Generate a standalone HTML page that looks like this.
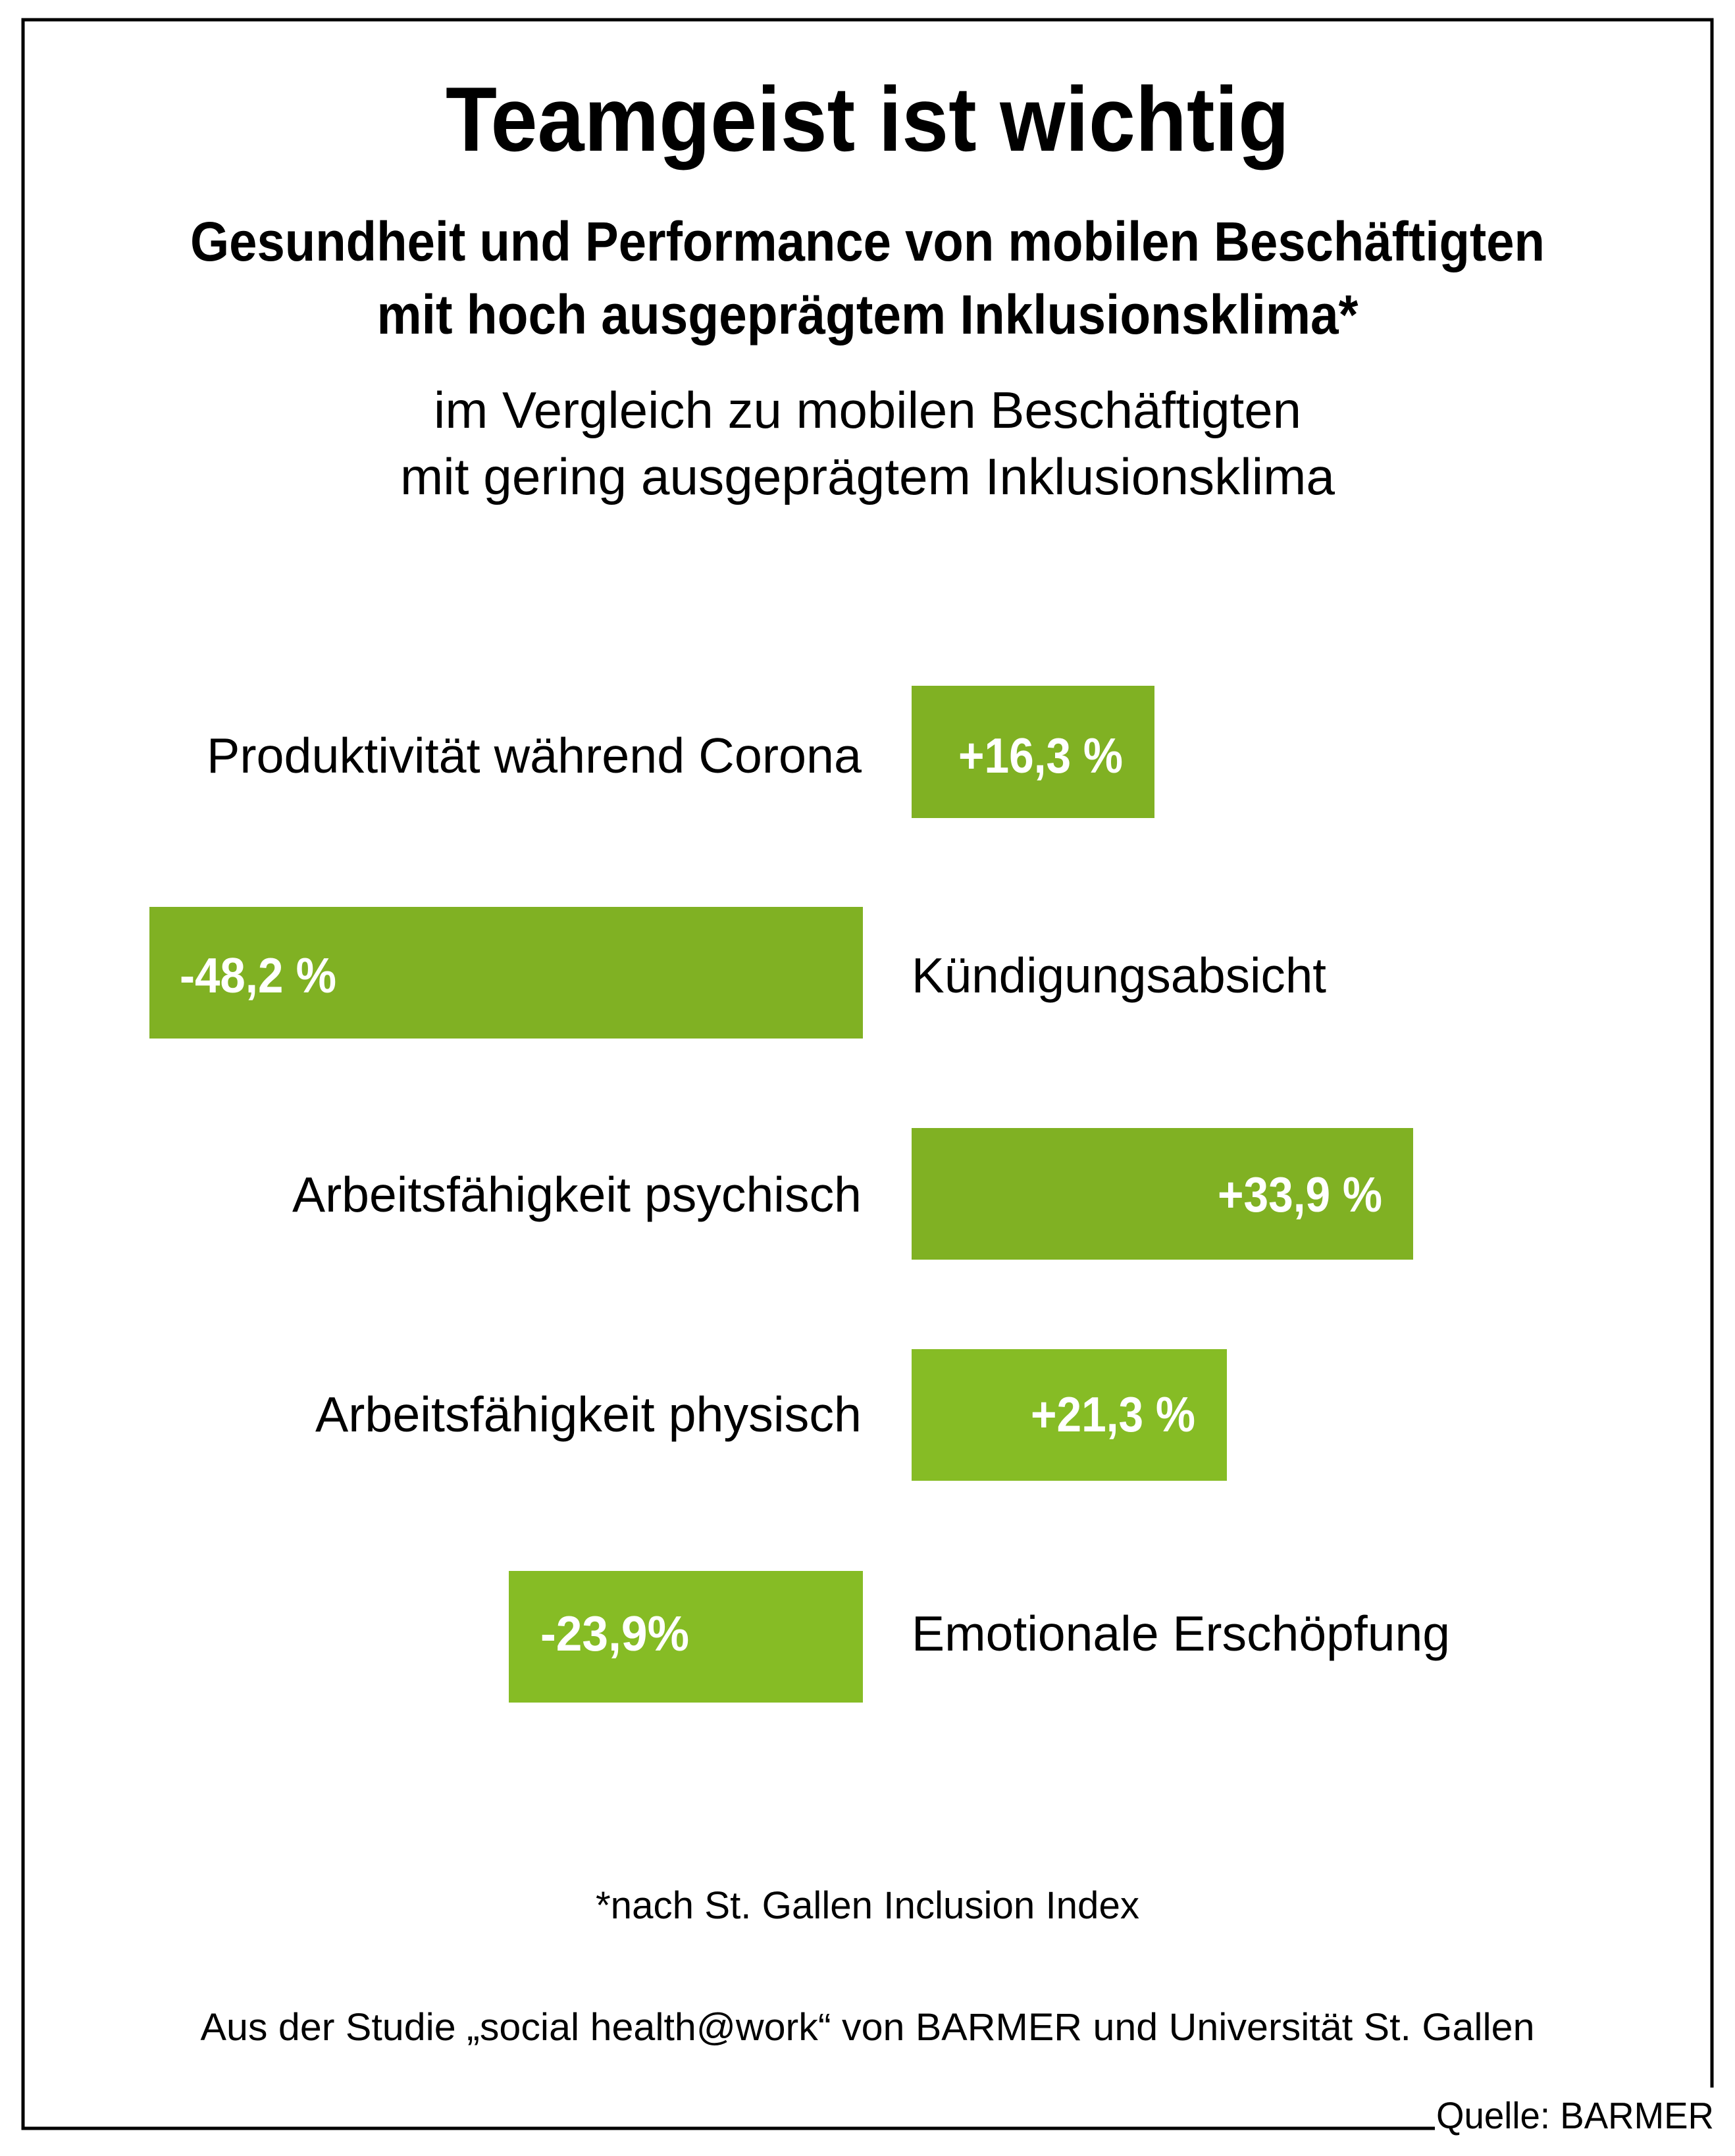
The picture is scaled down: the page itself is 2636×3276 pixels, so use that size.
<!DOCTYPE html>
<html><head><meta charset="utf-8"><style>html,body{margin:0;padding:0;background:#fff}svg{display:block}</style></head>
<body>
<svg width="2636" height="3276" viewBox="0 0 2636 3276" xmlns="http://www.w3.org/2000/svg" font-family="Liberation Sans, sans-serif">
<rect width="2636" height="3276" fill="#fff"/>
<path d="M2601 3172 V30 H35 V3234 H2180" fill="none" stroke="#000" stroke-width="5"/>
<text x="1318" y="229" font-size="139" font-weight="bold" text-anchor="middle" textLength="1282" lengthAdjust="spacingAndGlyphs">Teamgeist ist wichtig</text>
<text x="1318" y="396" font-size="84" font-weight="bold" text-anchor="middle" textLength="2058" lengthAdjust="spacingAndGlyphs">Gesundheit und Performance von mobilen Beschäftigten</text>
<text x="1318" y="507" font-size="84" font-weight="bold" text-anchor="middle" textLength="1491" lengthAdjust="spacingAndGlyphs">mit hoch ausgeprägtem Inklusionsklima*</text>
<text x="1318" y="650" font-size="78" text-anchor="middle" textLength="1318" lengthAdjust="spacingAndGlyphs">im Vergleich zu mobilen Beschäftigten</text>
<text x="1318" y="751" font-size="78" text-anchor="middle" textLength="1420" lengthAdjust="spacingAndGlyphs">mit gering ausgeprägtem Inklusionsklima</text>

<rect x="1385" y="1042" width="369" height="201" fill="#80b123"/>
<rect x="227" y="1378" width="1084" height="200" fill="#80b123"/>
<rect x="1385" y="1714" width="762" height="200" fill="#80b123"/>
<rect x="1385" y="2050" width="479" height="200" fill="#86bc25"/>
<rect x="773" y="2387" width="538" height="200" fill="#86bc25"/>

<g font-size="75">
<text x="1309" y="1174" text-anchor="end" textLength="995" lengthAdjust="spacingAndGlyphs">Produktivität während Corona</text>
<text x="1385" y="1508" textLength="630" lengthAdjust="spacingAndGlyphs">Kündigungsabsicht</text>
<text x="1309" y="1841" text-anchor="end" textLength="865" lengthAdjust="spacingAndGlyphs">Arbeitsfähigkeit psychisch</text>
<text x="1309" y="2175" text-anchor="end" textLength="830" lengthAdjust="spacingAndGlyphs">Arbeitsfähigkeit physisch</text>
<text x="1385" y="2508" textLength="818" lengthAdjust="spacingAndGlyphs">Emotionale Erschöpfung</text>
</g>
<g font-size="75" font-weight="bold" fill="#fff">
<text x="1456" y="1174" textLength="250" lengthAdjust="spacingAndGlyphs">+16,3 %</text>
<text x="273" y="1508" textLength="238" lengthAdjust="spacingAndGlyphs">-48,2 %</text>
<text x="2100" y="1841" text-anchor="end" textLength="250" lengthAdjust="spacingAndGlyphs">+33,9 %</text>
<text x="1816" y="2175" text-anchor="end" textLength="250" lengthAdjust="spacingAndGlyphs">+21,3 %</text>
<text x="821" y="2508" textLength="226" lengthAdjust="spacingAndGlyphs">-23,9%</text>
</g>
<text x="1318" y="2915" font-size="58" text-anchor="middle" textLength="826" lengthAdjust="spacingAndGlyphs">*nach St. Gallen Inclusion Index</text>
<text x="1318" y="3100" font-size="58" text-anchor="middle" textLength="2027" lengthAdjust="spacingAndGlyphs">Aus der Studie „social health@work“ von BARMER und Universität St. Gallen</text>
<text x="2182" y="3234" font-size="57" textLength="422" lengthAdjust="spacingAndGlyphs">Quelle: BARMER</text>
</svg>
</body></html>
